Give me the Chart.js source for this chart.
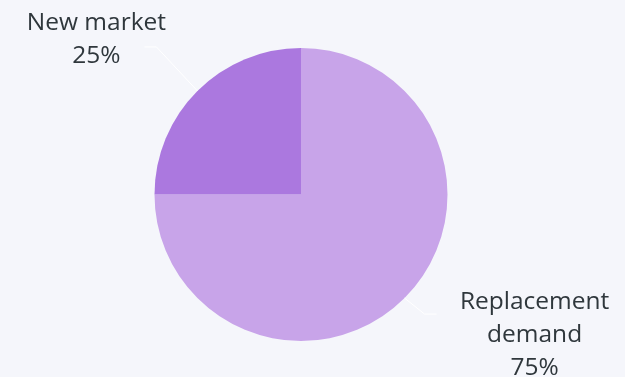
<!DOCTYPE html>
<html>
<head>
<meta charset="utf-8">
<title>Demand split</title>
<script src="https://cdn.jsdelivr.net/npm/chart.js@4"></script>
<style>
    html, body { margin: 0; padding: 0; background: #f5f6fb; }
    #wrap { width: 625px; height: 377px; position: relative; }
</style>
</head>
<body>
<div id="wrap"><canvas id="shareChart"></canvas></div>
<script>
// Market share data
const categories = ['Replacement demand', 'New market'];
const shares = [75, 25];
const labelLines = [['Replacement', 'demand'], ['New market']];
const sliceColors = ['#c8a4e9', '#ab78df'];

// Leader line + label placement per slice (relative to slice edge midpoint)
const connectors = [
    { elbow: [20, 16], tail: 12, text: [98, -5] },
    { elbow: [-41, -44], tail: -12, text: [-48, -17] },
];
const lineHeight = 33;

const outsideLabels = {
    id: 'outsideLabels',
    afterDatasetsDraw(chart) {
        const ctx = chart.ctx;
        const meta = chart.getDatasetMeta(0);
        const total = shares.reduce((a, b) => a + b, 0);

        meta.data.forEach((arc, i) => {
            const { x, y, startAngle, endAngle, outerRadius } = arc.getProps(['x', 'y', 'startAngle', 'endAngle', 'outerRadius'], true);
            const mid = (startAngle + endAngle) / 2;
            const ex = x + Math.cos(mid) * outerRadius;
            const ey = y + Math.sin(mid) * outerRadius;
            const c = connectors[i];
            const bx = ex + c.elbow[0];
            const by = ey + c.elbow[1];
            const tx = bx + c.tail;

            ctx.save();
            ctx.strokeStyle = '#ffffff';
            ctx.lineWidth = 1;
            ctx.beginPath();
            ctx.moveTo(ex, ey);
            ctx.lineTo(bx, by);
            ctx.lineTo(tx, by);
            ctx.stroke();

            ctx.fillStyle = '#2f373c';
            ctx.font = '24.5px "Open Sans"';
            ctx.textAlign = 'center';
            ctx.textBaseline = 'alphabetic';
            const lines = labelLines[i].concat([Math.round(shares[i] / total * 100) + '%']);
            lines.forEach((t, k) => {
                ctx.fillText(t, tx + c.text[0], by + c.text[1] + k * lineHeight);
            });
            ctx.restore();
        });
    }
};

const ctx = document.getElementById('shareChart').getContext('2d');
new Chart(ctx, {
    type: 'pie',
    data: {
        labels: categories,
        datasets: [{
            data: shares,
            backgroundColor: sliceColors,
            borderWidth: 0,
            hoverOffset: 0,
        }]
    },
    options: {
        responsive: true,
        maintainAspectRatio: false,
        animation: false,
        events: [],
        layout: { padding: { left: 154.5, right: 177.5, top: 48, bottom: 36 } },
        plugins: {
            legend: { display: false },
            tooltip: { enabled: false },
        }
    },
    plugins: [outsideLabels]
});
</script>
</body>
</html>
